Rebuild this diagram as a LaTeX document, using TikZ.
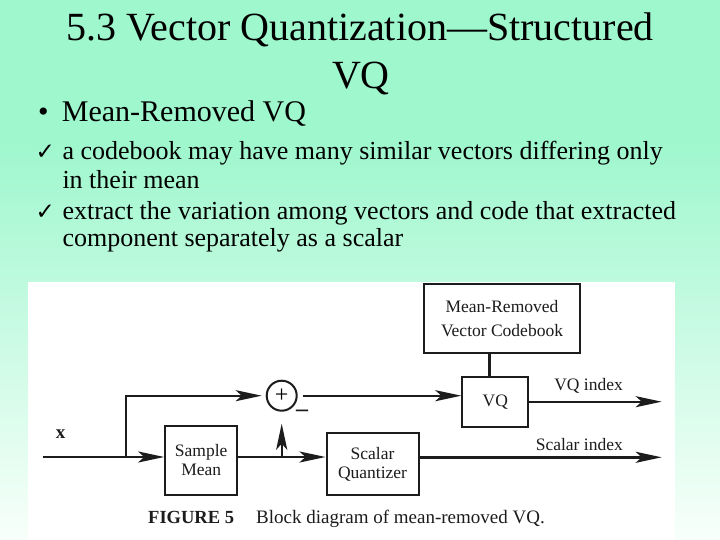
\documentclass[tikz,border=0pt]{standalone}
\usepackage{fontspec}
\setmainfont{Liberation Serif}
\newfontfamily\symfont{DejaVu Sans}
\usetikzlibrary{arrows.meta,positioning,calc}

\definecolor{mint}{HTML}{9EF7CD}
\definecolor{paleg}{HTML}{F8FFFB}
\definecolor{ink}{HTML}{1C1C1C}

\tikzset{
  txt/.style={inner sep=0pt, text=black},
  figtxt/.style={inner sep=0pt, text=ink, font=\fontsize{17.5}{19}\selectfont},
  blk/.style={draw=ink, line width=2pt, align=center, inner sep=0pt,
    font=\fontsize{17.5}{19}\selectfont, text=ink},
  sumnode/.style={draw=ink, circle, line width=2pt, minimum size=30pt,
    inner sep=0pt, font=\fontsize{24}{24}\selectfont},
  wire/.style={draw=ink, line width=2.4pt},
  arr/.style={-{Stealth[length=26pt,width=11pt,inset=6pt]}}
}

\begin{document}
\begin{tikzpicture}[x=1pt,y=-1pt]

  \useasboundingbox (0,0) rectangle (720,540);

  % --- background ---
  \fill[mint] (0,0) rectangle (720,140);
  \shade[top color=mint, bottom color=paleg] (0,139.5) rectangle (720,540);
  \fill[white] (28,282) rectangle (675,540);

  % --- title ---
  \node[txt, anchor=base, font=\fontsize{40}{48}\selectfont] (title1) at (360,40.7)
    {5.3 Vector Quantization—Structured};
  \node[txt, anchor=base, font=\fontsize{40}{48}\selectfont] (title2) at (361,88.3) {VQ};

  % --- bullets ---
  \node[txt, anchor=base west, font=\fontsize{30}{36}\selectfont] (mrvq) at (38,121.7)
    {\makebox[23.7pt][l]{•}Mean-Removed VQ};

  \node[txt, anchor=base west, font=\fontsize{23}{24}\symfont] (chk1) at (35.5,160) {✓};
  \node[txt, anchor=base west, font=\fontsize{26}{28}\selectfont] (item1a) at (62.3,160)
    {a codebook may have many similar vectors differing only};
  \node[txt, anchor=base west, font=\fontsize{26}{28}\selectfont] (item1b) at (62.3,188.3)
    {in their mean};

  \node[txt, anchor=base west, font=\fontsize{23}{24}\symfont] (chk2) at (35.5,220) {✓};
  \node[txt, anchor=base west, font=\fontsize{26}{28}\selectfont] (item2a) at (62.3,220)
    {extract the variation among vectors and code that extracted};
  \node[txt, anchor=base west, font=\fontsize{26}{28}\selectfont] (item2b) at (62.3,246.5)
    {component separately as a scalar};

  % --- blocks ---
  \node[blk, minimum width=72pt, minimum height=69pt] (smean) at (201.2,460.3) {Sample\\Mean};
  \node[blk, minimum width=92pt, minimum height=62pt] (sq) at (372.5,463.9) {Scalar\\Quantizer};
  \node[blk, minimum width=66pt, minimum height=50pt] (vq) at (495.3,401.7) {VQ};
  \node[blk, minimum width=156pt, minimum height=69pt, font=\fontsize{17.5}{24}\selectfont]
    (cb) at (502,318.4) {Mean-Removed\\Vector Codebook};
  \node[sumnode] (sum) at (281.7,395.7) {+};

  % --- points on the wires ---
  \coordinate (xin) at (42.7,457);
  \coordinate (split) at (126,457);
  \coordinate (tap) at (281.7,457);
  \coordinate (vqend) at (661.7,401.7);
  \coordinate (scend) at (661.7,457.3);

  % --- wires ---
  \draw[wire] (xin) -- (split);
  \draw[wire, arr] (split) -- (split -| smean.west);
  \draw[wire, arr, shorten >=4pt] (split) |- (sum.west);
  \draw[wire] (split -| smean.east) -- (tap);
  \draw[wire, arr] (tap) -- (tap -| sq.west);
  \draw[wire, arr, shorten >=12pt] (tap) -- (sum.south);
  \draw[wire, arr, shorten <=5pt] (sum.east) -- (sum.east -| vq.west);
  \draw[wire] ([xshift=-6pt]vq.north) -- ([xshift=-6pt]vq.north |- cb.south);
  \draw[wire, arr] (vq.east) -- (vqend);
  \draw[wire, arr] (sq.east |- scend) -- (scend);

  % --- labels ---
  \node[figtxt, anchor=base, font=\fontsize{19}{19}\selectfont\bfseries] (xlbl) at (60.7,438.3) {x};
  \node[figtxt, font=\fontsize{24}{24}\selectfont\bfseries] (minus) at (302,413) {–};
  \node[figtxt, anchor=base east] (vqlbl) at (623,390) {VQ index};
  \node[figtxt, anchor=base east] (sclbl) at (623,450.7) {Scalar index};

  % --- caption ---
  \node[figtxt, anchor=base west, font=\fontsize{18.5}{20}\selectfont\bfseries] (capnum) at (148,523)
    {FIGURE 5};
  \node[figtxt, anchor=base west, font=\fontsize{19}{20}\selectfont] (captxt) at (256,523)
    {Block diagram of mean-removed VQ.};

\end{tikzpicture}
\end{document}
